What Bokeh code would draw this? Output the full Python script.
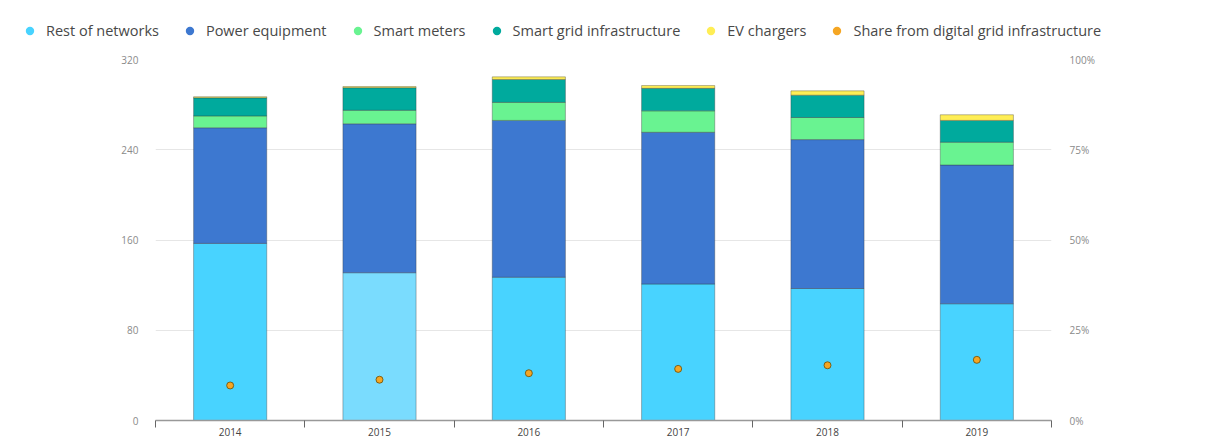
import numpy as np
from bokeh.plotting import figure
from bokeh.models import (ColumnDataSource, Range1d, LinearAxis, FixedTicker,
                          NumeralTickFormatter, Legend, LegendItem)
from bokeh.embed import file_html
from bokeh.resources import INLINE

# ---------------- data (USD billion) ----------------
years = ["2014", "2015", "2016", "2017", "2018", "2019"]
rest_of_networks = [157, 131, 127, 121, 117, 103.5]
power_equipment = [102.5, 132, 139, 134.5, 132, 123]
smart_meters = [10.5, 12, 16, 19, 19.6, 20.2]
smart_grid = [16, 20, 20.3, 20, 19.8, 19.3]
ev_chargers = [1, 1, 2.3, 2.4, 3.8, 5]
share_digital = [9.7, 11.3, 13.1, 14.3, 15.3, 16.8]  # percent

series_names = ["Rest of networks", "Power equipment", "Smart meters",
                "Smart grid infrastructure", "EV chargers"]
series_values = [rest_of_networks, power_equipment, smart_meters, smart_grid, ev_chargers]
series_colors = ["#48d3ff", "#3d78d0", "#69f391", "#00aa9d", "#ffee55"]
share_name = "Share from digital grid infrastructure"
share_color = "#f5a623"
rest_bar_colors = ["#48d3ff", "#7adcfe", "#48d3ff", "#48d3ff", "#48d3ff", "#48d3ff"]

FONT = "Open Sans"
W = 1190
LEG_H = 44
MAIN_H = 395

# ---------------- main chart ----------------
xpos = [i + 0.5 for i in range(len(years))]
data = {"x": xpos, "share": [s / 100 for s in share_digital]}
cum = np.zeros(len(years))
for k, vals in enumerate(series_values):
    data[f"b{k}"] = cum.copy()
    cum = cum + np.array(vals, dtype=float)
    data[f"t{k}"] = cum.copy()
data["rest_color"] = rest_bar_colors
src = ColumnDataSource(data)

p = figure(width=W, height=MAIN_H, output_backend="svg", toolbar_location=None,
           x_range=Range1d(0, len(years)), y_range=Range1d(0, 320),
           min_border_left=155, min_border_right=W - 1051, min_border_top=15,
           min_border_bottom=19, outline_line_color=None)
p.extra_y_ranges = {"pct": Range1d(0, 1)}

for k in range(len(series_values)):
    fc = "rest_color" if k == 0 else series_colors[k]
    p.vbar(x="x", bottom=f"b{k}", top=f"t{k}", width=0.49, source=src,
           fill_color=fc, line_color="#333333", line_alpha=0.35, line_width=1)

p.scatter(x="x", y="share", y_range_name="pct", source=src, marker="circle",
          size=7, fill_color=share_color, line_color="#6b4a00", line_width=0.8)

# grid
p.xgrid.visible = False
p.ygrid.ticker = FixedTicker(ticks=[80, 160, 240, 320])
p.ygrid.grid_line_color = "#e6e6e6"
p.ygrid.grid_line_width = 1

# left axis
ya = p.yaxis[0]
ya.ticker = FixedTicker(ticks=[0, 80, 160, 240, 320])
ya.axis_line_color = None
ya.major_tick_line_color = None
ya.minor_tick_line_color = None
ya.major_label_standoff = 11
ya.major_label_text_font = FONT
ya.major_label_text_font_size = "10px"
ya.major_label_text_color = "#8a8a8a"

# right axis
ra = LinearAxis(y_range_name="pct", ticker=FixedTicker(ticks=[0, 0.25, 0.5, 0.75, 1.0]),
                formatter=NumeralTickFormatter(format="0%"))
ra.axis_line_color = None
ra.major_tick_line_color = None
ra.minor_tick_line_color = None
ra.major_label_standoff = 12
ra.major_label_text_font = FONT
ra.major_label_text_font_size = "10px"
ra.major_label_text_color = "#8a8a8a"
p.add_layout(ra, "right")

# x axis
xa = p.xaxis[0]
xa.ticker = FixedTicker(ticks=xpos, minor_ticks=list(range(len(years) + 1)))
xa.major_label_overrides = {x: y for x, y in zip(xpos, years)}
xa.major_tick_line_color = None
xa.major_tick_out = 7
xa.minor_tick_line_color = "#666666"
xa.minor_tick_out = 7
xa.minor_tick_in = 0
xa.axis_line_color = "#999999"
xa.axis_line_width = 1.5
xa.major_label_standoff = 0
xa.major_label_text_font = FONT
xa.major_label_text_font_size = "10px"
xa.major_label_text_color = "#444444"

# ---------------- legend strip (its own root, full-width frame) ----------------
lg = figure(width=W, height=LEG_H, output_backend="svg", toolbar_location=None,
            x_range=Range1d(0, 1), y_range=Range1d(0, 1),
            min_border=0, min_border_left=0, min_border_right=0,
            min_border_top=0, min_border_bottom=0, outline_line_color=None)
lg.xaxis.visible = False
lg.yaxis.visible = False
lg.grid.visible = False
items = []
for name, col in zip(series_names + [share_name], series_colors + [share_color]):
    r = lg.scatter(x=[np.nan], y=[np.nan], marker="circle", size=10,
                   fill_color=col, line_color=None)
    items.append(LegendItem(label=name, renderers=[r]))
leg = Legend(items=items, orientation="horizontal", location=(19, 3),
             padding=0, margin=0, spacing=20, glyph_width=21, glyph_height=21,
             label_standoff=6, label_text_font=FONT, label_text_font_size="14.5px",
             label_text_color="#484848", border_line_color=None,
             background_fill_alpha=0)
lg.add_layout(leg, "center")

open("out.html", "w").write(file_html([lg, p], INLINE))
